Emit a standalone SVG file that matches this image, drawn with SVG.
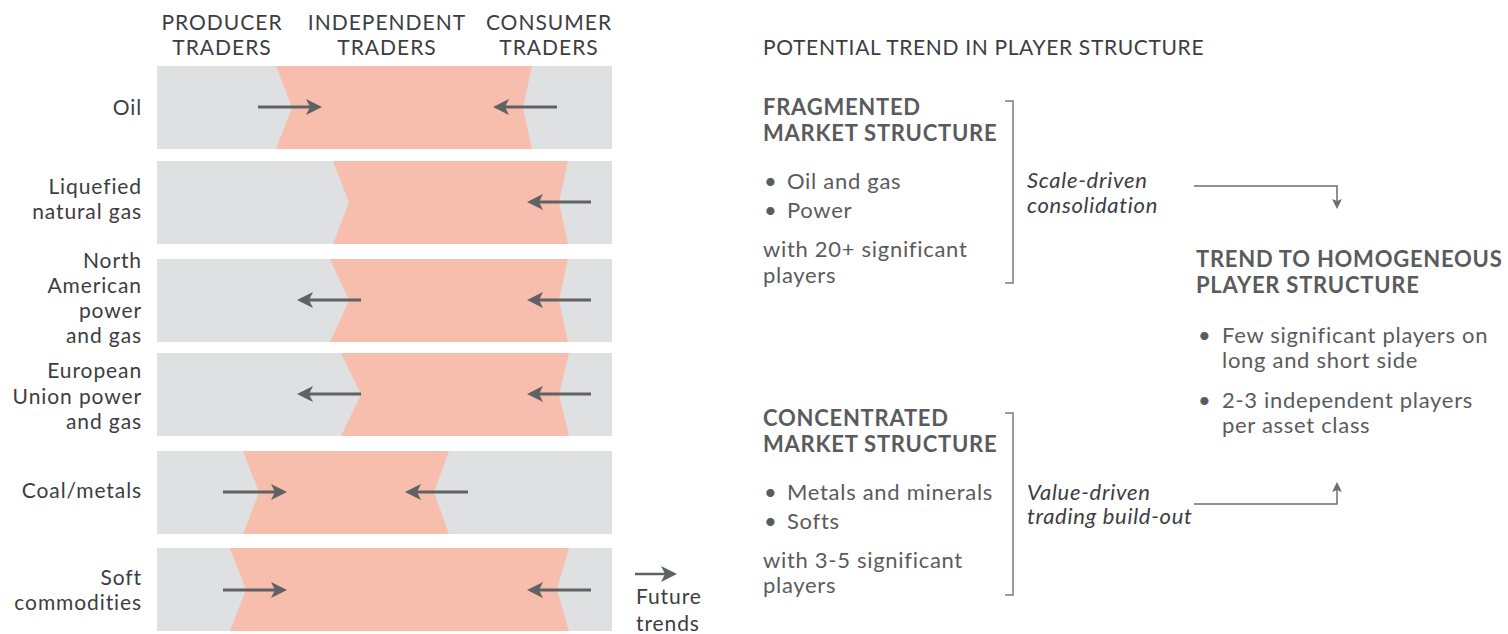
<svg xmlns="http://www.w3.org/2000/svg" width="1508" height="634" viewBox="0 0 1508 634">
  <style>
    text { font-family: Lato, "Open Sans", "Liberation Sans", sans-serif; }
    .hdr { font-size: 21px; letter-spacing: 1px; fill: #3d3d3f; text-anchor: middle; }
    .lbl { font-size: 21px; letter-spacing: 0.9px; fill: #3d3d3f; text-anchor: end; }
    .title { font-size: 21px; letter-spacing: 0.65px; fill: #3d3d3f; }
    .bold { font-size: 22px; letter-spacing: 0.75px; font-weight: bold; fill: #5a5b5d; }
    .body { font-size: 22px; letter-spacing: 0.7px; fill: #5a5b5d; }
    .note { font-size: 21px; letter-spacing: 0.9px; fill: #3d3d3f; }
    .ital { font-size: 22px; letter-spacing: 0.7px; font-style: italic; fill: #3d3d3f; }
    .bg { fill: #dfe0e2; }
    .mid { fill: #f8bead; }
    .trend { stroke: #5f6163; stroke-width: 3; fill: none; marker-end: url(#head); }
    .brk { stroke: #7a7b7d; stroke-width: 1.5; fill: none; }
    .link { stroke: #6d6e70; stroke-width: 1.5; fill: none; marker-end: url(#small); }
  </style>
  <defs>
    <marker id="head" markerUnits="userSpaceOnUse" viewBox="0 0 16 16" markerWidth="16" markerHeight="16" refX="6" refY="8" orient="auto">
      <path d="M0,0 L16,8 L0,16 L4,8 Z" fill="#5f6163"/>
    </marker>
    <marker id="small" markerUnits="userSpaceOnUse" viewBox="0 0 10 10" markerWidth="10" markerHeight="10" refX="2" refY="5" orient="auto">
      <path d="M0,0 L10,5 L0,10 L2,5 Z" fill="#6d6e70"/>
    </marker>
  </defs>

  <!-- column headers -->
  <g id="headers">
    <text class="hdr" x="222" y="30">PRODUCER</text>
    <text class="hdr" x="222" y="55">TRADERS</text>
    <text class="hdr" x="387" y="30">INDEPENDENT</text>
    <text class="hdr" x="387" y="55">TRADERS</text>
    <text class="hdr" x="549" y="30">CONSUMER</text>
    <text class="hdr" x="549" y="55">TRADERS</text>
  </g>

  <!-- commodity bands -->
  <g id="band-oil">
    <rect class="bg" x="157" y="66" width="455" height="83"/>
    <polygon class="mid" points="276,66 292,107.5 276,149 532,149 523,107.5 532,66"/>
    <text class="lbl" x="142" y="115">Oil</text>
  </g>
  <g id="band-lng">
    <rect class="bg" x="157" y="161" width="455" height="83"/>
    <polygon class="mid" points="333,161 349,202.5 333,244 568,244 559,202.5 568,161"/>
    <text class="lbl" x="142" y="194">Liquefied</text>
    <text class="lbl" x="142" y="219">natural gas</text>
  </g>
  <g id="band-na">
    <rect class="bg" x="157" y="259" width="455" height="83"/>
    <polygon class="mid" points="330,259 349,300.5 330,342 568,342 559,300.5 568,259"/>
    <text class="lbl" x="142" y="268">North</text>
    <text class="lbl" x="142" y="293">American</text>
    <text class="lbl" x="142" y="318">power</text>
    <text class="lbl" x="142" y="343">and gas</text>
  </g>
  <g id="band-eu">
    <rect class="bg" x="157" y="353" width="455" height="83"/>
    <polygon class="mid" points="341,353 361,394.5 341,436 569,436 559,394.5 569,353"/>
    <text class="lbl" x="142" y="378">European</text>
    <text class="lbl" x="142" y="404">Union power</text>
    <text class="lbl" x="142" y="429">and gas</text>
  </g>
  <g id="band-coal">
    <rect class="bg" x="157" y="451" width="455" height="83"/>
    <polygon class="mid" points="243,451 259,492.5 243,534 449,534 434,492.5 449,451"/>
    <text class="lbl" x="142" y="498">Coal/metals</text>
  </g>
  <g id="band-soft">
    <rect class="bg" x="157" y="548" width="455" height="83"/>
    <polygon class="mid" points="230,548 246,589.5 230,631 569,631 557,589.5 569,548"/>
    <text class="lbl" x="142" y="585">Soft</text>
    <text class="lbl" x="142" y="610">commodities</text>
  </g>

  <!-- legend -->
  <g id="legend">
    <line class="trend" x1="635" y1="574" x2="667" y2="574" style="stroke-width:2.5"/>
    <text class="note" x="636" y="604">Future</text>
    <text class="note" x="636" y="631">trends</text>
  </g>

  <!-- right panel -->
  <g id="panel-title">
    <text class="title" x="763" y="55">POTENTIAL TREND IN PLAYER STRUCTURE</text>
  </g>
  <g id="fragmented">
    <text class="bold" x="763" y="115">FRAGMENTED</text>
    <text class="bold" x="763" y="141">MARKET STRUCTURE</text>
    <text class="body" x="764" y="189">•</text>
    <text class="body" x="787" y="189">Oil and gas</text>
    <text class="body" x="764" y="218">•</text>
    <text class="body" x="787" y="218">Power</text>
    <text class="body" x="763" y="257">with 20+ significant</text>
    <text class="body" x="763" y="283">players</text>
    <path class="brk" d="M1005,101 H1013 V283 H1005"/>
    <text class="ital" x="1027" y="188">Scale-driven</text>
    <text class="ital" x="1027" y="213">consolidation</text>
  </g>
  <g id="concentrated">
    <text class="bold" x="763" y="426">CONCENTRATED</text>
    <text class="bold" x="763" y="452">MARKET STRUCTURE</text>
    <text class="body" x="764" y="500">•</text>
    <text class="body" x="787" y="500">Metals and minerals</text>
    <text class="body" x="764" y="529">•</text>
    <text class="body" x="787" y="529">Softs</text>
    <text class="body" x="763" y="568">with 3-5 significant</text>
    <text class="body" x="763" y="593">players</text>
    <path class="brk" d="M1005,413 H1013 V595 H1005"/>
    <text class="ital" x="1027" y="500">Value-driven</text>
    <text class="ital" x="1027" y="524">trading build-out</text>
  </g>
  <g id="homogeneous">
    <text class="bold" x="1196" y="267">TREND TO HOMOGENEOUS</text>
    <text class="bold" x="1196" y="293">PLAYER STRUCTURE</text>
    <text class="body" x="1198" y="343">•</text>
    <text class="body" x="1222" y="343">Few significant players on</text>
    <text class="body" x="1222" y="368">long and short side</text>
    <text class="body" x="1198" y="408">•</text>
    <text class="body" x="1222" y="408">2-3 independent players</text>
    <text class="body" x="1222" y="433">per asset class</text>
  </g>

  <!-- connectors -->
  <g id="connectors">
    <line class="trend" x1="258" y1="107" x2="312" y2="107"/>
    <line class="trend" x1="557" y1="107" x2="503" y2="107"/>
    <line class="trend" x1="591" y1="202" x2="537" y2="202"/>
    <line class="trend" x1="361" y1="300" x2="307" y2="300"/>
    <line class="trend" x1="591" y1="300" x2="537" y2="300"/>
    <line class="trend" x1="361" y1="394" x2="307" y2="394"/>
    <line class="trend" x1="591" y1="394" x2="537" y2="394"/>
    <line class="trend" x1="223" y1="492" x2="277" y2="492"/>
    <line class="trend" x1="468" y1="492" x2="415" y2="492"/>
    <line class="trend" x1="223" y1="590" x2="277" y2="590"/>
    <line class="trend" x1="591" y1="590" x2="537" y2="590"/>
    <path class="link" d="M1194,186 H1337 V201"/>
    <path class="link" d="M1194,504 H1337 V490"/>
  </g>
</svg>
